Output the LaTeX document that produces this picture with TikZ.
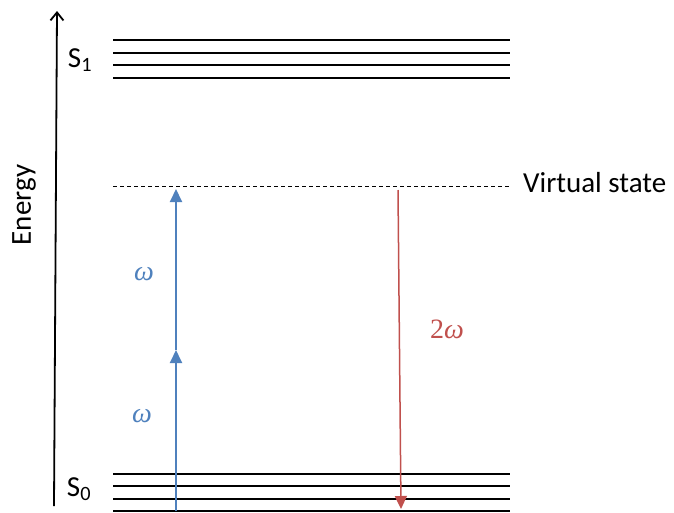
\documentclass[tikz,border=0pt]{standalone}
\usepackage{fontspec}
\setmainfont{Carlito}
\newfontfamily\grkfont{Liberation Serif}
\usepackage{tikz}
\usetikzlibrary{arrows.meta,positioning}
\definecolor{upblue}{HTML}{4F81BD}
\definecolor{downred}{HTML}{C0504D}

\begin{document}
\begin{tikzpicture}[x=1pt, y=-1pt,
  lvl/.style={line width=1.6pt},
  lvlb/.style={line width=2.4pt},
  absarr/.style={-{Triangle[length=13pt,width=12pt]}, upblue, line width=2pt},
  emarr/.style={-{Triangle[length=13pt,width=12pt]}, downred, line width=1.5pt},
  lab/.style={font=\fontsize{29}{33}\selectfont, inner sep=0pt},
  freq/.style={font=\fontsize{28}{32}\selectfont\grkfont\itshape, inner sep=0pt}]
\useasboundingbox (0,0) rectangle (674,512);
% energy axis
\coordinate (e0) at (54,506);
\coordinate (e1) at (57,11);
\draw[line width=1.8pt, -{Straight Barb[length=8pt,width=13pt]}] (e0) -- (e1);
\node[lab, rotate=90] (energy) at (24,205) {Energy};
% S1 levels
\draw[lvl]  (113,40) -- (510,40);
\draw[lvl]  (113,53) -- (510,53);
\draw[lvlb] (113,65) -- (510,65);
\draw[lvl]  (113,78) -- (510,78);
\node[lab] (s1) at (80,60) {S\textsubscript{1}};
% S0 levels
\draw[lvlb] (113,474) -- (510,474);
\draw[lvl]  (113,486) -- (510,486);
\draw[lvl]  (113,499) -- (510,499);
\draw[lvl]  (113,511) -- (510,511);
\node[lab] (s0) at (79,489) {S\textsubscript{0}};
% virtual state
\draw[dashed, line width=0.8pt, dash pattern=on 4pt off 3pt] (113,186) -- (510,186);
\node[lab, anchor=west] (vs) at (523,183) {Virtual state};
% transitions
\coordinate (a0) at (176,511);
\coordinate (a1) at (176,350);
\coordinate (a2) at (176,189);
\coordinate (b0) at (398,190);
\coordinate (b1) at (401,509);
\draw[absarr] (a0) -- (a1);
\draw[absarr] (a1) -- (a2);
\draw[emarr] (b0) -- (b1);
\node[freq, upblue] (w1) at (142,416) {ω};
\node[freq, upblue] (w2) at (144,274) {ω};
\node[freq, downred] (w3) at (447,329) {\upshape 2\itshape ω};
\end{tikzpicture}
\end{document}
